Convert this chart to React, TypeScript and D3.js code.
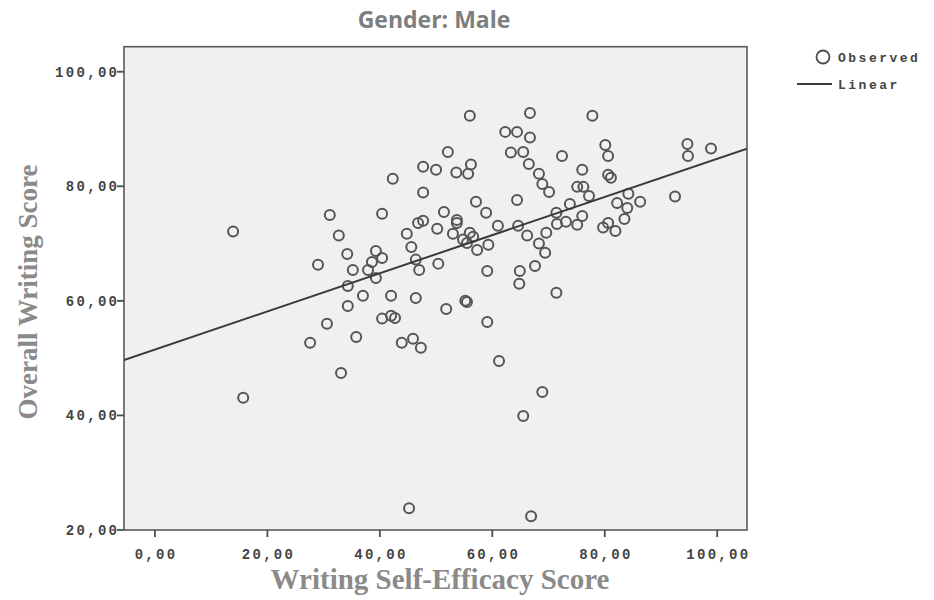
import React from 'react';
import * as d3 from 'd3';

// Writing self-efficacy (x) and overall writing score (y) for each male student
const selfEfficacy = [
  13.9, 15.7, 27.6, 29.0, 31.1, 30.6, 32.7, 33.1, 34.2, 34.3,
  34.3, 35.2, 35.8, 37.0, 37.9, 38.6, 39.3, 40.4, 39.3, 40.4,
  40.4, 42.0, 42.0, 42.7, 42.3, 43.9, 44.8, 45.6, 45.9, 45.2,
  46.4, 46.4, 47.0, 46.8, 47.3, 47.7, 47.7, 47.7, 50.0, 50.2,
  50.4, 52.1, 51.4, 51.8, 53.6, 53.7, 53.7, 53.0, 54.8, 55.2,
  55.5, 55.5, 56.0, 56.2, 55.7, 56.0, 56.6, 57.1, 57.3, 59.3,
  58.9, 59.1, 59.1, 61.0, 61.2, 62.3, 63.3, 64.4, 65.5, 64.4,
  64.6, 64.9, 64.8, 65.5, 66.2, 66.7, 66.7, 66.5, 66.9, 67.6,
  68.3, 68.9, 68.3, 69.4, 68.9, 69.6, 70.1, 71.4, 71.4, 72.4,
  71.5, 73.1, 73.8, 75.1, 75.1, 76.0, 76.2, 76.0, 77.2, 77.8,
  79.7, 80.1, 80.6, 80.6, 81.1, 80.6, 81.9, 82.2, 83.5, 84.0,
  84.2, 86.3, 92.5, 94.7, 94.8, 98.9,
];

const writingScore = [
  72.1, 43.1, 52.7, 66.3, 75.0, 56.0, 71.4, 47.4, 68.2, 62.6,
  59.1, 65.4, 53.7, 60.9, 65.4, 66.8, 68.7, 67.5, 64.0, 75.2,
  56.9, 60.9, 57.4, 57.0, 81.3, 52.7, 71.7, 69.4, 53.4, 23.8,
  60.5, 67.2, 65.4, 73.6, 51.8, 83.4, 78.9, 74.0, 82.9, 72.6,
  66.5, 86.0, 75.5, 58.6, 82.4, 74.1, 73.6, 71.7, 70.7, 60.0,
  59.8, 70.1, 92.3, 83.8, 82.2, 71.9, 71.2, 77.3, 68.9, 69.8,
  75.4, 65.2, 56.3, 73.1, 49.5, 89.5, 85.9, 89.5, 86.0, 77.6,
  73.1, 65.2, 63.0, 39.9, 71.4, 92.8, 88.5, 83.9, 22.4, 66.1,
  82.2, 80.4, 70.0, 68.4, 44.1, 71.9, 79.0, 61.4, 75.4, 85.3,
  73.4, 73.8, 76.9, 79.9, 73.3, 82.9, 79.9, 74.8, 78.3, 92.3,
  72.8, 87.2, 85.3, 82.0, 81.5, 73.6, 72.2, 77.1, 74.3, 76.2,
  78.7, 77.3, 78.2, 87.4, 85.3, 86.6,
];

// Fitted linear model: score = intercept + slope * self-efficacy
const fitIntercept = 51.5;
const fitSlope = 0.333;

const xTicks = [0, 20, 40, 60, 80, 100];
const yTicks = [20, 40, 60, 80, 100];

const W = 934;
const H = 600;
const frame = { left: 124, right: 747, top: 46.7, bottom: 530 };

const monoFont = '"Liberation Mono", "DejaVu Sans Mono", monospace';
const serifFont = '"Liberation Serif", "DejaVu Serif", serif';
const tickSize = 14;
const tickSpacing = 2.3;
const titleGray = '#8a8a8a';

const fmt = (v: number) => v.toFixed(2).replace('.', ',');

export default function App() {
  const x = d3.scaleLinear().domain([-5.5, 105.3]).range([frame.left, frame.right]);
  const y = d3.scaleLinear().domain([20, 104.37]).range([frame.bottom, frame.top]);

  const [x0, x1] = x.domain();
  const fitPath = d3.line<number>()
    .x((d) => x(d))
    .y((d) => y(fitIntercept + fitSlope * d))([x0, x1]);

  const points = selfEfficacy.map((v, i) => ({ sx: v, sy: writingScore[i] }));

  return (
    <svg
      width={W}
      height={H}
      style={{ position: 'absolute', left: 0, top: 0, background: '#fff' }}
    >
      <defs>
        <clipPath id="plot-clip">
          <rect x={frame.left} y={frame.top} width={frame.right - frame.left} height={frame.bottom - frame.top} />
        </clipPath>
      </defs>

      <text
        x={434}
        y={28}
        textAnchor="middle"
        fontFamily='"Liberation Sans Narrow", "Open Sans", sans-serif'
        fontWeight="bold"
        fontSize={23}
        fill="#7e7e7e"
      >
        Gender: Male
      </text>

      <rect
        x={frame.left}
        y={frame.top}
        width={frame.right - frame.left}
        height={frame.bottom - frame.top}
        fill="#f0f0f0"
        stroke="#5a5a5a"
        strokeWidth={1.6}
      />

      <g clipPath="url(#plot-clip)">
        {points.map((p, i) => (
          <circle
            key={i}
            cx={x(p.sx)}
            cy={y(p.sy)}
            r={5}
            fill="none"
            stroke="#555"
            strokeWidth={2}
          />
        ))}
        <path d={fitPath ?? ''} fill="none" stroke="#3a3a3a" strokeWidth={2} />
      </g>

      {/* x axis ticks and labels */}
      {xTicks.map((t) => (
        <g key={`x${t}`}>
          <line x1={x(t)} x2={x(t)} y1={frame.bottom} y2={frame.bottom + 7} stroke="#4d4d4d" strokeWidth={1.8} />
          <text
            x={x(t) + tickSpacing / 2}
            y={frame.bottom + 29}
            textAnchor="middle"
            fontFamily={monoFont}
            fontWeight="bold"
            fontSize={tickSize}
            letterSpacing={tickSpacing}
            fill="#444"
          >
            {fmt(t)}
          </text>
        </g>
      ))}

      {/* y axis ticks and labels */}
      {yTicks.map((t) => (
        <g key={`y${t}`}>
          <line x1={frame.left - 7} x2={frame.left} y1={y(t)} y2={y(t)} stroke="#4d4d4d" strokeWidth={1.8} />
          <text
            x={frame.left - 7 + tickSpacing}
            y={y(t) + 5}
            textAnchor="end"
            fontFamily={monoFont}
            fontWeight="bold"
            fontSize={tickSize}
            letterSpacing={tickSpacing}
            fill="#444"
          >
            {fmt(t)}
          </text>
        </g>
      ))}

      <text
        x={440}
        y={589}
        textAnchor="middle"
        fontFamily={serifFont}
        fontWeight="bold"
        fontSize={29}
        fill={titleGray}
      >
        Writing Self-Efficacy Score
      </text>

      <text
        transform={`translate(37, 292) rotate(-90)`}
        textAnchor="middle"
        fontFamily={serifFont}
        fontWeight="bold"
        fontSize={27}
        fill={titleGray}
      >
        Overall Writing Score
      </text>

      {/* legend */}
      <circle cx={823} cy={57} r={6.5} fill="none" stroke="#4d4d4d" strokeWidth={1.8} />
      <text x={838} y={62} fontFamily={monoFont} fontWeight="bold" fontSize={13} letterSpacing={2.5} fill="#444">
        Observed
      </text>
      <line x1={797} x2={832} y1={84} y2={84} stroke="#3a3a3a" strokeWidth={2} />
      <text x={838} y={89} fontFamily={monoFont} fontWeight="bold" fontSize={13} letterSpacing={2.5} fill="#444">
        Linear
      </text>
    </svg>
  );
}
